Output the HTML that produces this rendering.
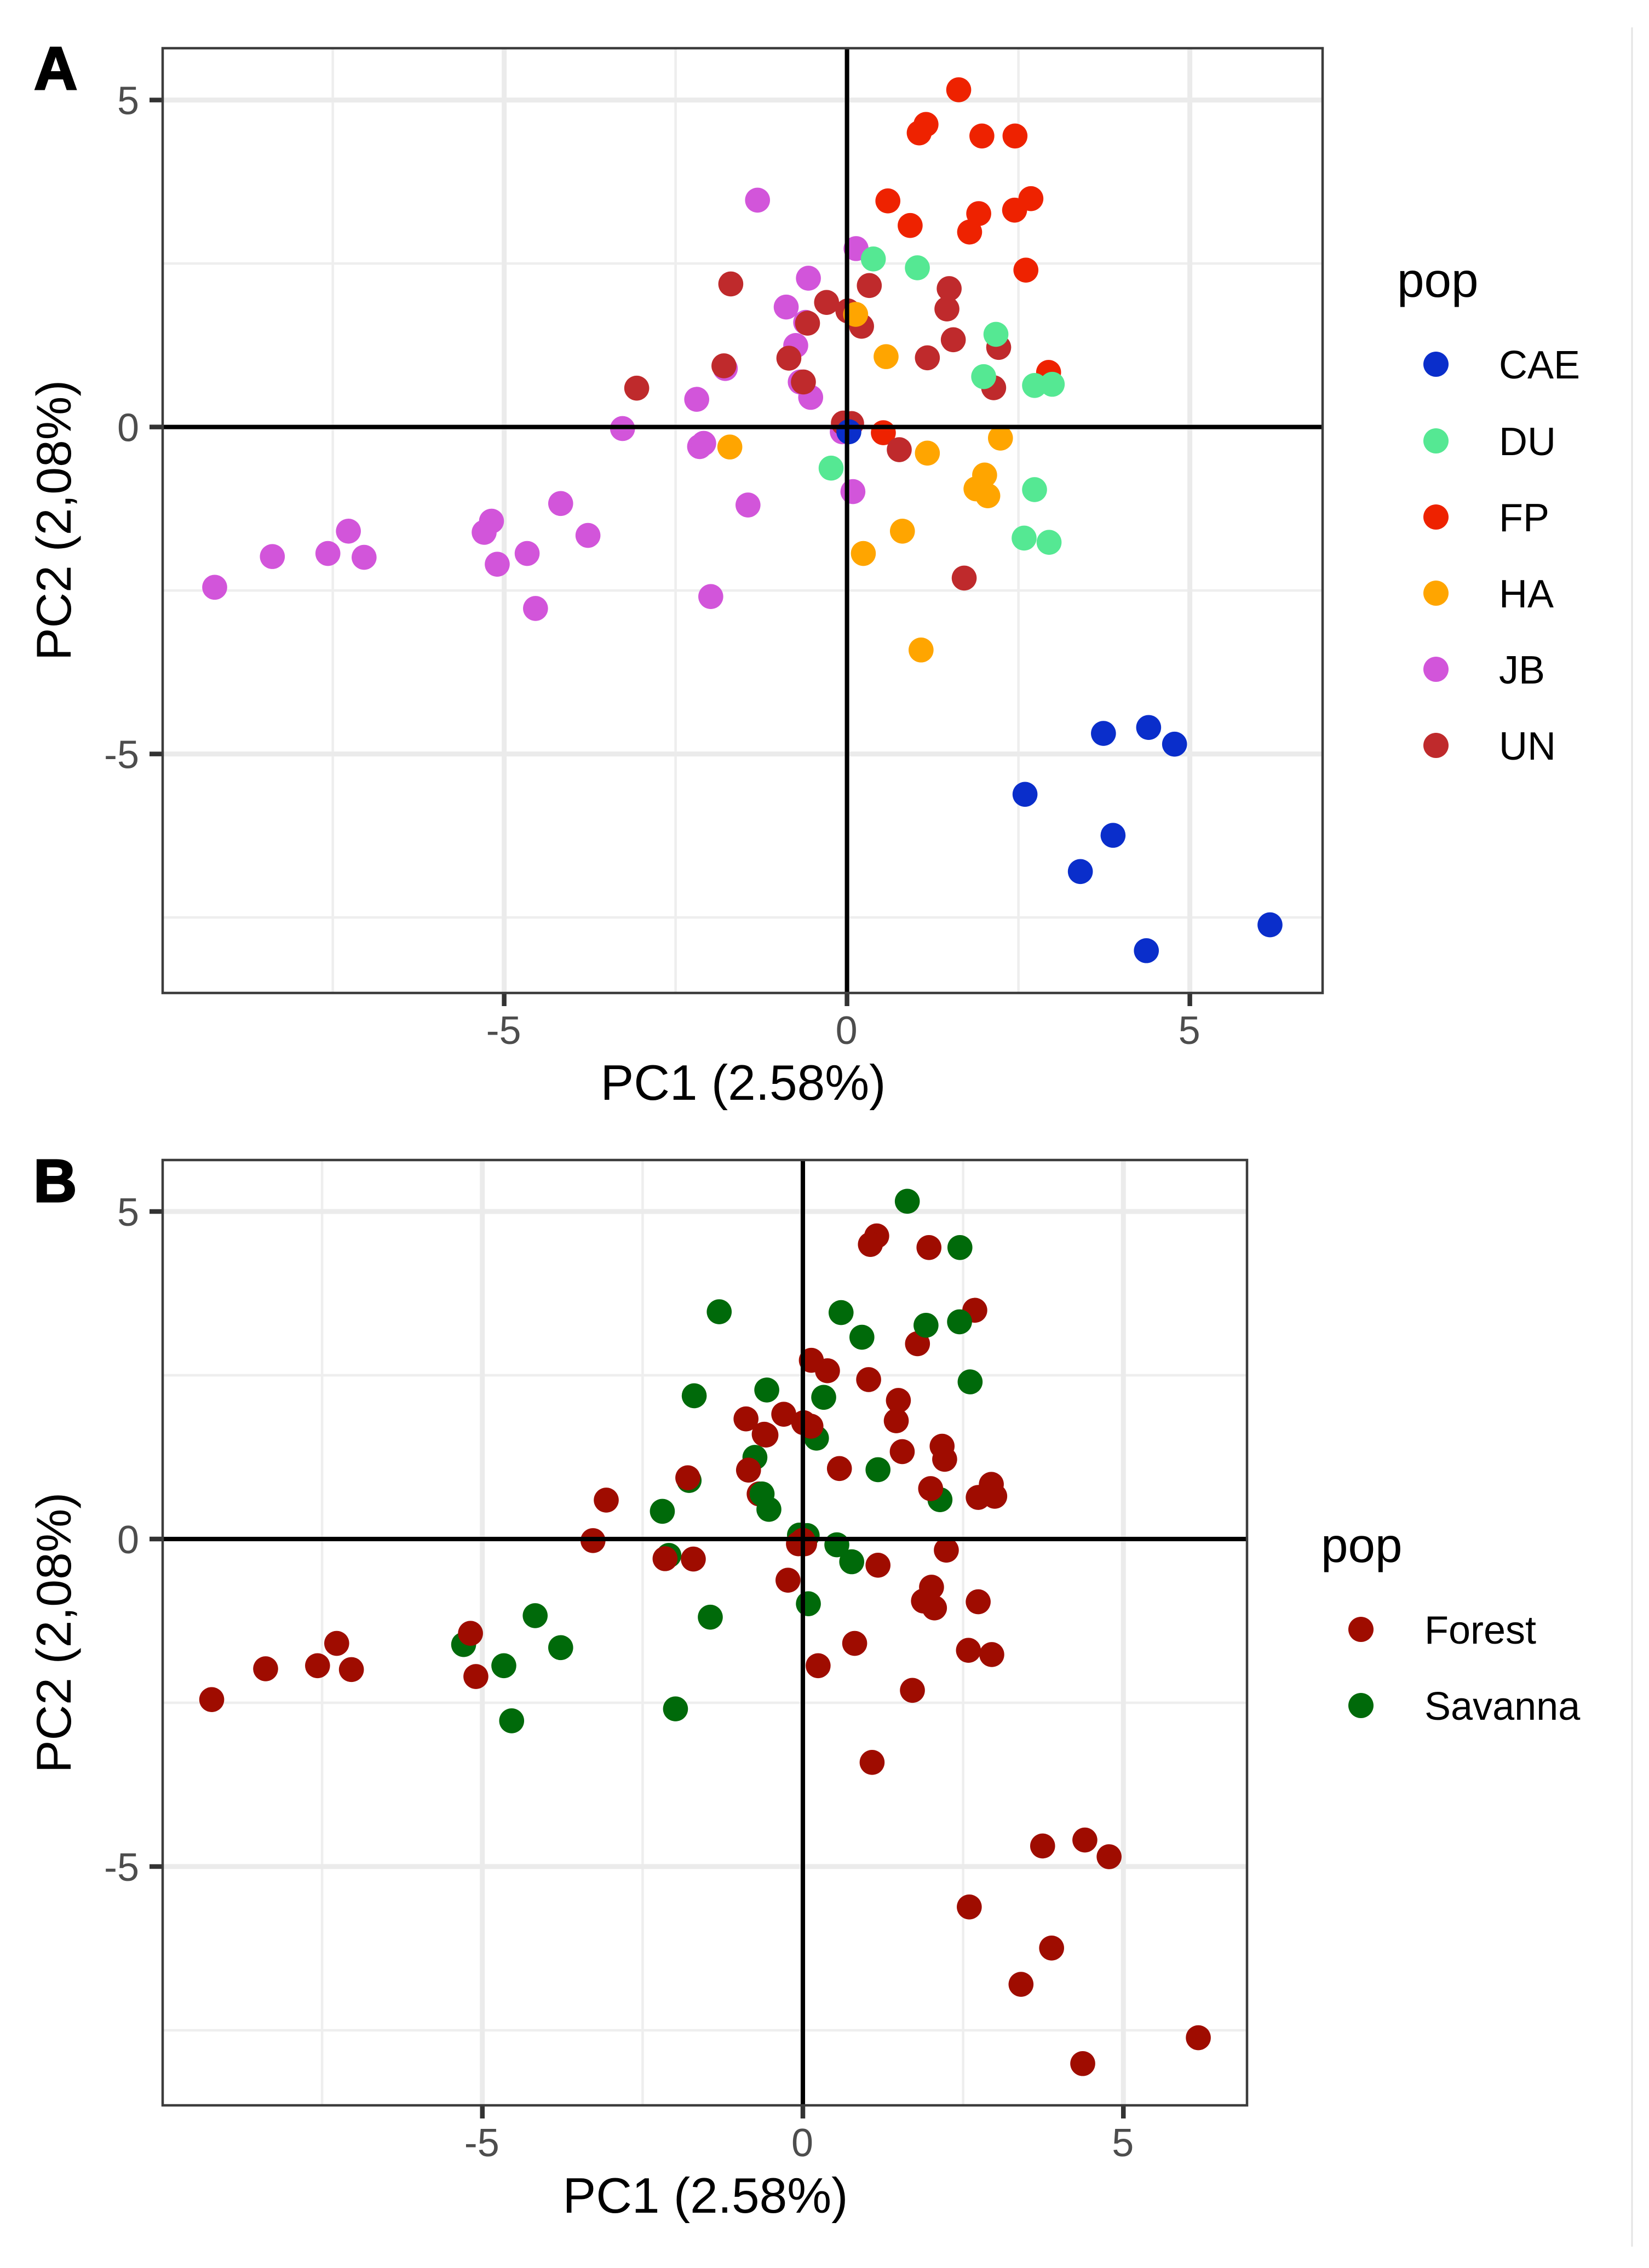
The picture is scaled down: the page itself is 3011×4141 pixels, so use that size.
<!DOCTYPE html>
<html lang="en">
<head>
<meta charset="utf-8">
<title>PCA plots by population and habitat</title>
<style>
html,body{margin:0;padding:0;background:#fff;width:3011px;height:4141px;overflow:hidden}
svg{display:block}
text{font-family:"Liberation Sans",Arial,sans-serif}
</style>
</head>
<body>
<svg id="figure" xmlns="http://www.w3.org/2000/svg" width="3011" height="4141" viewBox="0 0 3011 4141">
  <rect x="0" y="0" width="3011" height="4141" fill="#ffffff"/>
  <line x1="2980" y1="50" x2="2980" y2="4102" stroke="#e4e4e4" stroke-width="3"/>

  <g id="panel-a"></g>
  <g id="panel-b"></g>

  <text x="62" y="163" font-size="110" font-weight="700" fill="#000" stroke="#000" stroke-width="3">A</text>
  <text x="61" y="2194" font-size="110" font-weight="700" fill="#000" stroke="#000" stroke-width="3">B</text>

  <text x="1357" y="2008" font-size="91" text-anchor="middle" fill="#000">PC1 (2.58%)</text>
  <text transform="translate(129,950) rotate(-90)" font-size="89.5" text-anchor="middle" fill="#000">PC2 (2,08%)</text>
  <text x="1288" y="4040" font-size="91" text-anchor="middle" fill="#000">PC1 (2.58%)</text>
  <text transform="translate(129,2981) rotate(-90)" font-size="89.5" text-anchor="middle" fill="#000">PC2 (2,08%)</text>

  <g>
    <text x="2551" y="542" font-size="89" fill="#000">pop</text>
    <circle cx="2622" cy="665" r="23" fill="#0a2ecb"/>
    <text x="2737" y="691" font-size="72" fill="#000">CAE</text>
    <circle cx="2622" cy="805" r="23" fill="#55e893"/>
    <text x="2737" y="831" font-size="72" fill="#000">DU</text>
    <circle cx="2622" cy="944" r="23" fill="#ee2200"/>
    <text x="2737" y="970" font-size="72" fill="#000">FP</text>
    <circle cx="2622" cy="1083" r="23" fill="#ffa500"/>
    <text x="2737" y="1109" font-size="72" fill="#000">HA</text>
    <circle cx="2622" cy="1222" r="23" fill="#d255da"/>
    <text x="2737" y="1248" font-size="72" fill="#000">JB</text>
    <circle cx="2622" cy="1361" r="23" fill="#bf2a2c"/>
    <text x="2737" y="1387" font-size="72" fill="#000">UN</text>
  </g>

  <g>
    <text x="2412" y="2852" font-size="89" fill="#000">pop</text>
    <circle cx="2485" cy="2975" r="23" fill="#9f0c00"/>
    <text x="2601" y="3001" font-size="72" fill="#000">Forest</text>
    <circle cx="2485" cy="3114" r="23" fill="#006a0a"/>
    <text x="2601" y="3140" font-size="72" fill="#000">Savanna</text>
  </g>
</svg>

<script>
// Axis ticks and labels
const majorTicks = [-5, 0, 5];
const minorXTicks = [-7.5, -2.5, 2.5];
const minorYTicks = [-7.5, -2.5, 2.5];

// Panel A values, one pair of arrays per population
const fpX = [0.0, 1.629, 1.152, 1.053, 1.967, 2.45, 2.682, 2.444, 1.921, 1.788, 0.596, 0.921, 2.609, 2.94, 0.53];
const fpY = [-0.02, 5.156, 4.627, 4.497, 4.45, 4.45, 3.492, 3.316, 3.263, 2.981, 3.457, 3.081, 2.399, 0.835, -0.088];
const jbX = [-1.305, 0.132, -0.563, -0.887, -0.603, -0.748, -1.775, -0.682, -0.53, -2.192, -2.15, -2.09, -0.069, 0.086, -1.444, -1.987, -3.274, -4.176, -3.778, -5.185, -5.292, -4.665, -5.101, -4.543, -7.272, -8.381, -7.571, -7.043, -9.222];
const jbY = [3.469, 2.728, 2.275, 1.834, 1.6, 1.246, 0.894, 0.688, 0.453, 0.423, -0.3, -0.25, -0.073, -0.988, -1.193, -2.593, -0.024, -1.17, -1.658, -1.44, -1.611, -1.934, -2.099, -2.775, -1.593, -1.981, -1.934, -1.993, -2.451];
const unX = [-1.695, -0.298, 0.325, 1.49, 1.457, 0.013, 0.212, -0.576, 1.55, 2.212, 1.172, -0.848, -1.795, -0.636, 2.139, -3.067, 0.762, 1.709, -0.053, 0.067];
const unY = [2.187, 1.905, 2.163, 2.116, 1.805, 1.775, 1.54, 1.587, 1.334, 1.217, 1.058, 1.052, 0.935, 0.688, 0.6, 0.594, -0.347, -2.31, 0.06, 0.053];
const haX = [0.126, 0.57, 2.238, 1.172, -1.709, 2.007, 1.881, 2.053, 0.808, 0.238, 1.08];
const haY = [1.722, 1.076, -0.17, -0.4, -0.306, -0.735, -0.946, -1.052, -1.593, -1.934, -3.41];
const duX = [0.384, 1.026, 2.172, 1.993, 2.735, 2.993, -0.232, 2.735, 2.583, 2.947];
const duY = [2.569, 2.434, 1.417, 0.77, 0.635, 0.653, -0.629, -0.958, -1.699, -1.764];
const caeX = [0.027, 3.74, 4.399, 4.777, 2.596, 3.88, 3.403, 6.169, 4.366];
const caeY = [-0.073, -4.686, -4.595, -4.85, -5.617, -6.244, -6.798, -7.613, -8.008];

// Panel B values, grouped by habitat and listed in draw order
const forestLowX = [2.682, 1.788, -0.682];
const forestLowY = [3.492, 2.981, 0.688];
const savannaX = [1.629, 2.45, 2.444, 1.921, 0.596, 0.921, 2.609, 0.53, -1.695, 0.325, 0.212, 1.172, -0.636, 2.139, 0.762, -0.053, 0.067, -1.305, -0.563, -0.748, -1.775, -0.53, -2.192, -2.09, 0.086, -1.444, -1.987, -4.176, -3.778, -5.292, -4.665, -4.543];
const savannaY = [5.156, 4.45, 3.316, 3.263, 3.457, 3.081, 2.399, -0.088, 2.187, 2.163, 1.54, 1.058, 0.688, 0.6, -0.347, 0.06, 0.053, 3.469, 2.275, 1.246, 0.894, 0.453, 0.423, -0.25, -0.988, -1.193, -2.593, -1.17, -1.658, -1.611, -1.934, -2.775];
const forestX = [0.0, 1.152, 1.053, 1.967, 2.94, 0.384, 1.026, 2.172, 1.993, 2.735, 2.993, -0.232, 2.735, 2.583, 2.947, 0.126, 0.57, 2.238, 1.172, -1.709, 2.007, 1.881, 2.053, 0.808, 0.238, 1.08, 0.027, 3.74, 4.399, 4.777, 2.596, 3.88, 3.403, 6.169, 4.366, 0.132, -0.887, -0.603, -2.15, -0.069, -3.274, -5.185, -5.101, -7.272, -8.381, -7.571, -7.043, -9.222, -0.298, 1.49, 1.457, 0.013, -0.576, 1.55, 2.212, -0.848, -1.795, -3.067, 1.709];
const forestY = [-0.02, 4.627, 4.497, 4.45, 0.835, 2.569, 2.434, 1.417, 0.77, 0.635, 0.653, -0.629, -0.958, -1.699, -1.764, 1.722, 1.076, -0.17, -0.4, -0.306, -0.735, -0.946, -1.052, -1.593, -1.934, -3.41, -0.073, -4.686, -4.595, -4.85, -5.617, -6.244, -6.798, -7.613, -8.008, 2.728, 1.834, 1.6, -0.3, -0.073, -0.024, -1.44, -2.099, -1.593, -1.981, -1.934, -1.993, -2.451, 1.905, 2.116, 1.805, 1.775, 1.587, 1.334, 1.217, 1.052, 0.935, 0.594, -2.31];

const SVG_NS = 'http://www.w3.org/2000/svg';

function axisX(zero, unit) {
  return function (v) { return zero + unit * v; };
}
function axisY(zero, unit) {
  return function (v) { return zero - unit * v; };
}

function makeLine(parent, x1, y1, x2, y2, color, width, name) {
  const el = document.createElementNS(SVG_NS, 'line');
  el.setAttribute('x1', x1);
  el.setAttribute('y1', y1);
  el.setAttribute('x2', x2);
  el.setAttribute('y2', y2);
  el.setAttribute('stroke', color);
  el.setAttribute('stroke-width', width);
  
  
  parent.appendChild(el);
  return el;
}

function makeTickLabel(parent, x, y, label, anchor, name) {
  const el = document.createElementNS(SVG_NS, 'text');
  el.setAttribute('x', x);
  el.setAttribute('y', y);
  el.setAttribute('font-size', '72');
  el.setAttribute('fill', '#4d4d4d');
  el.setAttribute('text-anchor', anchor);
  
  
  el.textContent = label;
  parent.appendChild(el);
}

function drawFrame(parent, box, sx, sy, prefix, tickBaseline) {
  minorXTicks.forEach(function (t) {
    makeLine(parent, sx(t), box.top, sx(t), box.bottom, '#eeeeee', 4.5, prefix + '-minor-gridline-x');
  });
  minorYTicks.forEach(function (t) {
    makeLine(parent, box.left, sy(t), box.right, sy(t), '#eeeeee', 4.5, prefix + '-minor-gridline-y');
  });
  majorTicks.forEach(function (t) {
    makeLine(parent, sx(t), box.top, sx(t), box.bottom, '#ebebeb', 9, prefix + '-major-gridline-x');
    makeLine(parent, box.left, sy(t), box.right, sy(t), '#ebebeb', 9, prefix + '-major-gridline-y');
    makeLine(parent, sx(t), box.bottom, sx(t), box.bottom + 24, '#333333', 8.5, prefix + '-x-tick');
    makeLine(parent, box.left - 24, sy(t), box.left, sy(t), '#333333', 8.5, prefix + '-y-tick');
    makeTickLabel(parent, sx(t) - 1, tickBaseline, String(t), 'middle', prefix + '-x-tick-label');
    makeTickLabel(parent, 254, sy(t) + 26, String(t), 'end', prefix + '-y-tick-label');
  });
}

function drawPoints(parent, xs, ys, sx, sy, color, name) {
  xs.forEach(function (x, i) {
    const c = document.createElementNS(SVG_NS, 'circle');
    c.setAttribute('cx', sx(x));
    c.setAttribute('cy', sy(ys[i]));
    c.setAttribute('r', 22.8);
    c.setAttribute('fill', color);
    
    
    parent.appendChild(c);
  });
}

function drawOverlay(parent, box, sx, sy, prefix) {
  makeLine(parent, box.left, sy(0), box.right, sy(0), '#000000', 8, prefix + '-zero-line-horizontal');
  makeLine(parent, sx(0), box.top, sx(0), box.bottom, '#000000', 8, prefix + '-zero-line-vertical');
  const frame = document.createElementNS(SVG_NS, 'rect');
  frame.setAttribute('x', box.left);
  frame.setAttribute('y', box.top);
  frame.setAttribute('width', box.right - box.left);
  frame.setAttribute('height', box.bottom - box.top);
  frame.setAttribute('fill', 'none');
  frame.setAttribute('stroke', '#3c3c3c');
  frame.setAttribute('stroke-width', 4.5);
  
  
  parent.appendChild(frame);
}

const panelA = document.getElementById('panel-a');
const boxA = { left: 297, right: 2415, top: 88, bottom: 1813 };
const xA = axisX(1546.6, 125.2);
const yA = axisY(779.6, 119.4);
drawFrame(panelA, boxA, xA, yA, 'panel-a', 1906);
drawPoints(panelA, fpX, fpY, xA, yA, '#ee2200', 'point-fp');
drawPoints(panelA, jbX, jbY, xA, yA, '#d255da', 'point-jb');
drawPoints(panelA, unX, unY, xA, yA, '#bf2a2c', 'point-un');
drawPoints(panelA, haX, haY, xA, yA, '#ffa500', 'point-ha');
drawPoints(panelA, duX, duY, xA, yA, '#55e893', 'point-du');
drawPoints(panelA, caeX, caeY, xA, yA, '#0a2ecb', 'point-cae');
drawOverlay(panelA, boxA, xA, yA, 'panel-a');

const panelB = document.getElementById('panel-b');
const boxB = { left: 297, right: 2277, top: 2118, bottom: 3844 };
const xB = axisX(1466, 117.05);
const yB = axisY(2810, 119.6);
drawFrame(panelB, boxB, xB, yB, 'panel-b', 3937);
drawPoints(panelB, forestLowX, forestLowY, xB, yB, '#9f0c00', 'point-forest');
drawPoints(panelB, savannaX, savannaY, xB, yB, '#006a0a', 'point-savanna');
drawPoints(panelB, forestX, forestY, xB, yB, '#9f0c00', 'point-forest');
drawOverlay(panelB, boxB, xB, yB, 'panel-b');
</script>
</body>
</html>
